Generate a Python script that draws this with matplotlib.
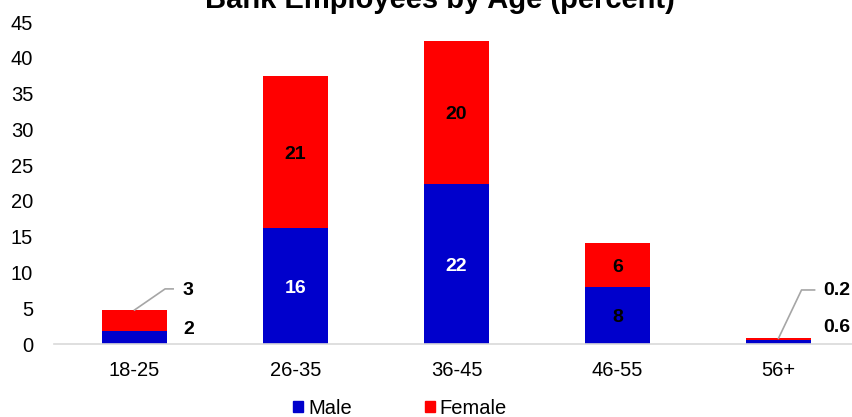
import matplotlib.pyplot as plt
from matplotlib.patches import Patch

plt.rcParams['font.family'] = ['Liberation Sans', 'DejaVu Sans']

ages = ["18-25", "26-35", "36-45", "46-55", "56+"]
male = [1.8, 16.2, 22.4, 8.0, 0.55]
female = [2.95, 21.25, 19.95, 6.15, 0.25]
male_labels = ["2", "16", "22", "8", "0.6"]
female_labels = ["3", "21", "20", "6", "0.2"]

BLUE = "#0000CC"
RED = "#FF0000"

fig = plt.figure(figsize=(8.52, 4.17), dpi=100)
ax = fig.add_axes([54 / 852, 73 / 417, 805 / 852, 322 / 417])

x = list(range(len(ages)))
ax.bar(x, male, width=0.4, color=BLUE)
ax.bar(x, female, width=0.4, bottom=male, color=RED)

ax.set_xlim(-0.5, 4.5)
ax.set_ylim(0, 45)
ax.set_yticks(range(0, 46, 5))
ax.set_xticks(x)
ax.set_xticklabels(ages)
ax.tick_params(axis="both", length=0, labelsize=14.5)
ax.tick_params(axis="x", pad=12)
ax.tick_params(axis="y", pad=15)
for s in ["top", "right", "left"]:
    ax.spines[s].set_visible(False)
ax.spines["bottom"].set_color("#D9D9D9")
ax.spines["bottom"].set_linewidth(1.2)

# labels inside bars (nudged down a bit so the digits sit centred)
nudge = 0.35
for i in [1, 2, 3]:
    mc = "white" if i in (1, 2) else "black"
    ax.text(i, male[i] / 2 - nudge, male_labels[i], ha="center", va="center",
            fontsize=14, fontweight="bold", color=mc)
    ax.text(i, male[i] + female[i] / 2 - nudge, female_labels[i], ha="center",
            va="center", fontsize=14, fontweight="bold", color="black")

# small bars: labels outside with leader lines
ax.text(0.305, 2.0, male_labels[0], ha="left", va="center",
        fontsize=14, fontweight="bold")
ax.text(0.30, 7.45, female_labels[0], ha="left", va="center",
        fontsize=14, fontweight="bold")
ax.plot([0, 0.19, 0.24], [male[0] + female[0], 7.7, 7.7],
        color="#A6A6A6", lw=1.2)

ax.text(4.28, 2.3, male_labels[4], ha="left", va="center",
        fontsize=14, fontweight="bold")
ax.text(4.28, 7.45, female_labels[4], ha="left", va="center",
        fontsize=14, fontweight="bold")
ax.plot([4, 4.143, 4.224], [male[4] + female[4], 7.55, 7.55],
        color="#A6A6A6", lw=1.2)

fig.text(440 / 852, 1 - 8 / 417, "Bank Employees by Age (percent)",
         ha="center", va="baseline", fontsize=21, fontweight="bold")

handles = [Patch(color=BLUE, label="Male"), Patch(color=RED, label="Female")]
fig.legend(handles=handles, loc="center", bbox_to_anchor=(400 / 852, 9 / 417),
           ncol=2, frameon=False, fontsize=14.5, handlelength=0.5,
           handleheight=0.5, handletextpad=0.25, columnspacing=3.6,
           borderpad=0, borderaxespad=0)

fig.savefig("out.png", dpi=100)
